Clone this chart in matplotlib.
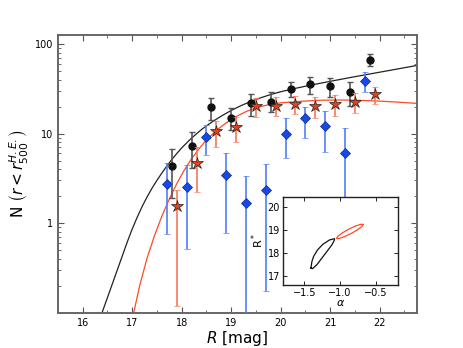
import numpy as np
import matplotlib
matplotlib.use("Agg")
import matplotlib.pyplot as plt
from matplotlib.ticker import FixedLocator, FuncFormatter, MultipleLocator, LogLocator, NullFormatter

# ---------------- data ----------------
# black circles
mag_k = [17.8, 18.2, 18.6, 19.0, 19.4, 19.8, 20.2, 20.6, 21.0, 21.4, 21.8]
n_k = [4.3, 7.2, 19.9, 15.1, 22.1, 22.6, 31.2, 35.5, 34.0, 28.8, 66.4]
n_k_hi = [6.8, 10.4, 24.7, 19.5, 27.6, 29.0, 37.9, 43.1, 42.0, 37.4, 77.4]
n_k_lo = [1.9, 4.1, 14.1, 11.0, 15.7, 17.5, 25.8, 27.4, 25.4, 20.3, 56.9]

# red stars
mag_r = [17.9, 18.3, 18.7, 19.1, 19.5, 19.9, 20.3, 20.7, 21.1, 21.5, 21.9]
n_r = [1.54, 4.7, 10.6, 11.7, 20.3, 20.3, 21.3, 20.4, 21.3, 22.6, 27.6]
n_r_hi = [2.32, 7.1, 13.9, 15.4, 24.7, 25.4, 26.2, 25.8, 26.9, 28.6, 33.3]
n_r_lo = [0.12, 2.22, 7.1, 8.1, 15.4, 15.7, 16.5, 15.0, 15.7, 16.8, 21.3]

# blue diamonds
mag_b = [17.7, 18.1, 18.5, 18.9, 19.3, 19.7, 20.1, 20.5, 20.9, 21.3, 21.7]
n_b = [2.76, 2.53, 9.2, 3.42, 1.67, 2.32, 10.0, 14.8, 12.2, 6.0, 38.6]
n_b_hi = [4.7, 4.5, 12.4, 6.1, 3.33, 4.54, 14.8, 20.0, 17.9, 11.4, 48.3]
n_b_lo = [0.75, 0.52, 5.7, 0.77, 0.01, 0.173, 5.3, 9.0, 6.2, 0.5, 28.9]

# model curves (log10 N)
curve_k_mag = [16.39, 16.5, 16.6, 16.7, 16.8, 16.9, 17.0, 17.1, 17.2, 17.3, 17.4, 17.5,
               17.6, 17.7, 17.8, 17.9, 18.0, 18.2, 18.4, 18.6, 18.8, 19.0, 19.2, 19.4,
               19.6, 19.8, 20.0, 20.3, 20.6, 21.0, 21.4, 21.8, 22.2, 22.75]
curve_k_logn = [-1.0, -0.83, -0.675, -0.52, -0.365, -0.21, -0.065, 0.065, 0.185, 0.292,
                0.39, 0.478, 0.56, 0.638, 0.71, 0.777, 0.84, 0.95, 1.045, 1.125, 1.195,
                1.258, 1.312, 1.36, 1.40, 1.436, 1.467, 1.505, 1.54, 1.583, 1.625,
                1.665, 1.705, 1.76]
curve_r_mag = [17.03, 17.15, 17.3, 17.45, 17.6, 17.75, 17.9, 18.05, 18.2, 18.35, 18.5,
               18.7, 18.9, 19.1, 19.3, 19.5, 19.75, 20.0, 20.4, 20.8, 21.2, 21.6, 22.0,
               22.4, 22.75]
curve_r_logn = [-1.0, -0.70, -0.39, -0.14, 0.08, 0.27, 0.44, 0.59, 0.72, 0.83, 0.93,
                1.035, 1.12, 1.19, 1.245, 1.288, 1.322, 1.343, 1.36, 1.372, 1.375,
                1.371, 1.362, 1.35, 1.337]

# inset confidence contours (alpha, R*)
cont_k_alpha = [-1.407, -1.393, -1.37, -1.315, -1.24, -1.148, -1.079, -1.079, -1.115,
                -1.185, -1.254, -1.324, -1.385, -1.407]
cont_k_rstar = [17.356, 17.64, 17.855, 18.14, 18.385, 18.57, 18.627, 18.57, 18.356,
                18.07, 17.785, 17.5, 17.326, 17.356]
cont_r_alpha = [-0.680, -0.697, -0.759, -0.849, -0.944, -1.017, -1.050, -1.033, -0.971,
                -0.881, -0.786, -0.713, -0.680]
cont_r_rstar = [19.240, 19.152, 19.008, 18.845, 18.708, 18.632, 18.640, 18.728, 18.872,
                19.035, 19.172, 19.2475, 19.240]

xticks = [16, 17, 18, 19, 20, 21, 22]
yticks = [1, 10, 100]

# ---------------- plot ----------------
fig = plt.figure(figsize=(4.63, 3.48), dpi=100)
ax = fig.add_axes([0.1253, 0.1014, 0.7747, 0.798])

black_c = "#111111"
red_c = "#ff4a22"
blue_c = "#1848e8"

ax.plot(curve_k_mag, 10 ** np.array(curve_k_logn), color="#222222", lw=0.9, zorder=2)
ax.plot(curve_r_mag, 10 ** np.array(curve_r_logn), color=red_c, lw=0.9, zorder=2)

def err(vals, lo, hi):
    v = np.array(vals)
    return [v - np.array(lo), np.array(hi) - v]

ax.errorbar(mag_b, n_b, yerr=err(n_b, n_b_lo, n_b_hi), fmt="D", color=blue_c,
            mec="#0a2a90", mew=0.5, ms=5.5, ecolor="#4f7ff5", elinewidth=1.2,
            capsize=2.5, capthick=1.0, zorder=4)
ax.errorbar(mag_k, n_k, yerr=err(n_k, n_k_lo, n_k_hi), fmt="o", color=black_c,
            ms=5, ecolor="#555555", elinewidth=1.2, capsize=2.5, capthick=1.0, zorder=5)
ax.errorbar(mag_r, n_r, yerr=err(n_r, n_r_lo, n_r_hi), fmt="*", color="#e8401a",
            mec="#222222", mew=0.5, ms=9, ecolor="#f4785a", elinewidth=1.2,
            capsize=2.5, capthick=1.0, zorder=6)

ax.set_yscale("log")
ax.set_xlim(15.5, 22.75)
ax.set_ylim(0.1, 126)
ax.xaxis.set_major_locator(FixedLocator(xticks))
ax.xaxis.set_minor_locator(MultipleLocator(0.5))
ax.yaxis.set_major_locator(FixedLocator(yticks))
ax.yaxis.set_major_formatter(FuncFormatter(lambda v, p: "%d" % v))
ax.yaxis.set_minor_locator(LogLocator(base=10, subs=np.arange(2, 10)))
ax.yaxis.set_minor_formatter(NullFormatter())
ax.tick_params(which="both", direction="in", top=True, right=True, labelsize=7,
               color="#555555")
ax.tick_params(which="major", length=4, width=0.8)
ax.tick_params(which="minor", length=2, width=0.6)
for s in ax.spines.values():
    s.set_color("#666666")
    s.set_linewidth(1.4)

ax.set_xlabel(r"$R$ [mag]", fontsize=11, labelpad=1)
ax.set_ylabel(r"N $\left(r<r_{500}^{H.E.}\right)$", fontsize=11, labelpad=3)

# inset
ins = fig.add_axes([0.6106, 0.181, 0.2497, 0.253])
ins.plot(cont_k_alpha, cont_k_rstar, color="#111111", lw=0.9)
ins.plot(cont_r_alpha, cont_r_rstar, color=red_c, lw=0.9)
ins.set_xlim(-1.8, -0.19)
ins.set_ylim(16.62, 20.43)
ins.set_xticks([-1.5, -1.0, -0.5])
ins.set_yticks([17, 18, 19, 20])
ins.tick_params(direction="in", top=True, right=True, labelsize=7, length=3, width=0.6,
                pad=2)
for s in ins.spines.values():
    s.set_color("#222222")
    s.set_linewidth(1.0)
ins.set_xlabel(r"$\alpha$", fontsize=8, labelpad=0)
ins.set_ylabel(r"R$^*$", fontsize=8, labelpad=1)

fig.savefig("out.png", dpi=100)
